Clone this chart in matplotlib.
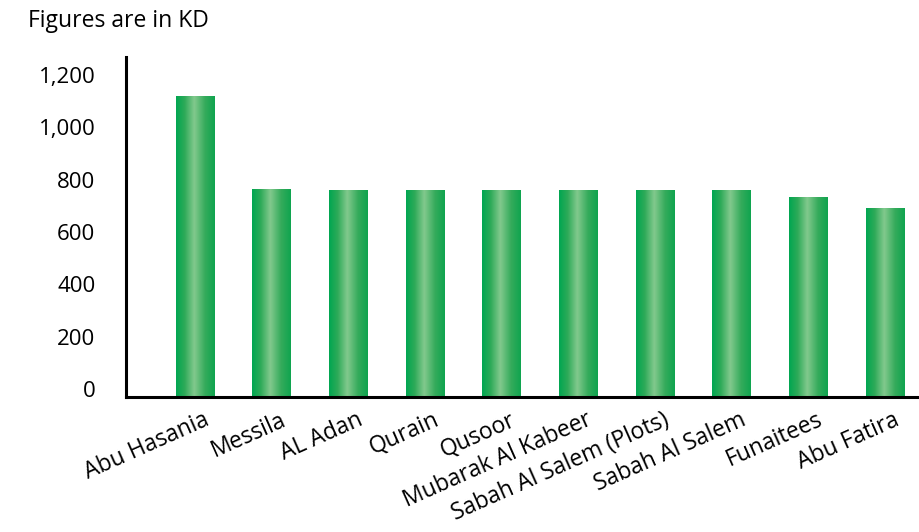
import numpy as np
import matplotlib
matplotlib.use("Agg")
import matplotlib.pyplot as plt
from matplotlib.colors import LinearSegmentedColormap
from matplotlib.transforms import ScaledTranslation

plt.rcParams['font.family'] = ['Open Sans', 'DejaVu Sans']

areas = ["Abu Hasania", "Messila", "AL Adan", "Qurain", "Qusoor",
         "Mubarak Al Kabeer", "Sabah Al Salem (Plots)", "Sabah Al Salem",
         "Funaitees", "Abu Fatira"]
prices = [1150, 795, 790, 790, 790, 790, 790, 790, 765, 722]
y_ticks = [0, 200, 400, 600, 800, 1000, 1200]
y_tick_labels = ["0", "200", "400", "600", "800", "1,000", "1,200"]

fig = plt.figure(figsize=(9.19, 5.32), dpi=100)
W, H = 919, 532
ax = fig.add_axes([126 / W, 1 - 397 / H, (917 - 126) / W, (397 - 57) / H])

x = np.arange(len(areas))
bars = ax.bar(x, prices, width=0.5, color="none", edgecolor="none", zorder=2)

# horizontal metallic-green shading inside every bar
green = LinearSegmentedColormap.from_list(
    "green_sheen",
    [(0.0, "#00a651"), (0.22, "#2daa58"), (0.47, "#82c98d"),
     (0.75, "#34ab5b"), (1.0, "#0fa44f")])
grad = np.linspace(0, 1, 256).reshape(1, -1)
for b in bars:
    x0, y0 = b.get_x(), b.get_y()
    im = ax.imshow(grad, cmap=green, aspect="auto", interpolation="bilinear",
                   extent=[x0, x0 + b.get_width(), y0, y0 + b.get_height()],
                   zorder=2)
    im.set_clip_path(b)

ax.set_xlim(-0.9, 9.42)
ax.set_ylim(0, 1300)

for side in ("top", "right"):
    ax.spines[side].set_visible(False)
for side in ("left", "bottom"):
    ax.spines[side].set_linewidth(2.2)
    ax.spines[side].set_color("black")
    ax.spines[side].set_zorder(3)

ax.set_yticks(y_ticks)
ax.set_yticklabels(y_tick_labels, fontsize=16, va="baseline")
ax.tick_params(axis="y", length=0, pad=22)

ax.set_xticks(x)
ax.set_xticklabels(areas, fontsize=16.5, rotation=24, ha="right",
                   rotation_mode="anchor", va="top")
ax.tick_params(axis="x", length=0, pad=8)
shift = ScaledTranslation(8 / 100, 0, fig.dpi_scale_trans)
for lbl in ax.get_xticklabels():
    lbl.set_transform(lbl.get_transform() + shift)

fig.text(28 / W, 1 - 27 / H, "Figures are in KD", fontsize=16.5,
         va="baseline", ha="left")

fig.savefig("out.png", dpi=100, facecolor="white")
